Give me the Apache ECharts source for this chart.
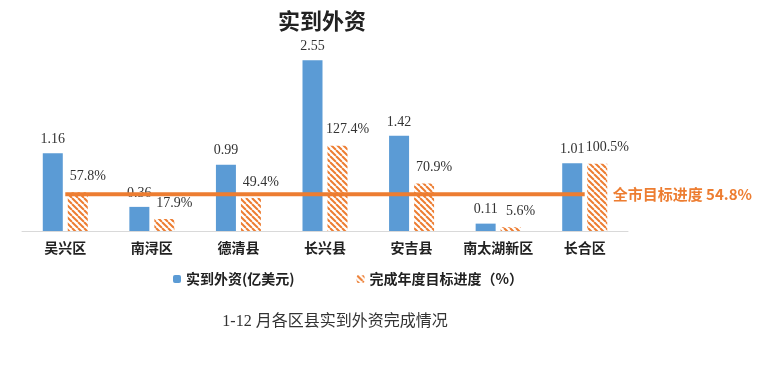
<!DOCTYPE html>
<html>
<head>
<meta charset="utf-8">
<script src="https://cdn.jsdelivr.net/npm/echarts@6/dist/echarts.min.js"></script>
<style>
html,body{margin:0;padding:0;background:#fff;}
#main{width:768px;height:378px;}
</style>
</head>
<body>
<div id="main"></div>
<script>
var districts = ['吴兴区', '南浔区', '德清县', '长兴县', '安吉县', '南太湖新区', '长合区'];
var fdiValues = [1.16, 0.36, 0.99, 2.55, 1.42, 0.11, 1.01];
var progressValues = [57.8, 17.9, 49.4, 127.4, 70.9, 5.6, 100.5];
var cityTarget = 54.8;

// 斜线填充
function makeStripe() {
	var s = 6;
	var c = document.createElement('canvas');
	c.width = s; c.height = s;
	var ctx = c.getContext('2d');
	ctx.fillStyle = '#fff';
	ctx.fillRect(0, 0, s, s);
	ctx.strokeStyle = '#ED7D31';
	ctx.lineWidth = 2;
	for (var x0 = -s; x0 <= s; x0 += s) {
		ctx.beginPath();
		ctx.moveTo(x0, 0);
		ctx.lineTo(x0 + s, s);
		ctx.stroke();
	}
	return c;
}

var chart = echarts.init(document.getElementById('main'));
var serif = '"Liberation Serif", "Noto Sans CJK SC", serif';
var sans = '"Noto Sans CJK SC", sans-serif';

var option = {
	backgroundColor: '#fff',
	animation: false,
	title: [{
		text: '实到外资',
		left: 317,
		textAlign: 'center',
		top: 5,
		textStyle: { fontFamily: sans, fontWeight: 'bold', fontSize: 22, color: '#222' }
	}, {
		text: '1-12 月各区县实到外资完成情况',
		left: 330,
		textAlign: 'center',
		top: 309,
		textStyle: { fontFamily: serif, fontWeight: 'normal', fontSize: 16, color: '#333' }
	}],
	legend: {
		data: ['实到外资(亿美元)', '完成年度目标进度（%）'],
		left: 168,
		top: 267,
		itemWidth: 8,
		itemHeight: 8,
		itemGap: 62,
		textStyle: { fontFamily: sans, fontWeight: 'bold', fontSize: 14, color: '#222' }
	},
	grid: {
		left: 22,
		right: 140,
		top: 30,
		bottom: 147
	},
	xAxis: {
		type: 'category',
		data: districts,
		axisTick: { show: false },
		axisLine: { lineStyle: { color: '#D9D9D9', width: 1 } },
		axisLabel: { interval: 0, margin: 10, fontFamily: sans, fontWeight: 'bold', fontSize: 14, color: '#222' }
	},
	yAxis: [
		{ type: 'value', min: 0, max: 3, show: false },
		{ type: 'value', min: 0, max: 300, show: false }
	],
	series: [
		{
			name: '实到外资(亿美元)',
			type: 'bar',
			barWidth: 20,
			barGap: '25%',
			yAxisIndex: 0,
			data: fdiValues,
			itemStyle: { color: '#5B9BD5' },
			label: {
				show: true,
				position: 'top',
				distance: 7,
				fontFamily: serif,
				fontSize: 14,
				color: '#333',
				formatter: function (p) { return p.value.toFixed(2); }
			}
		},
		{
			name: '完成年度目标进度（%）',
			type: 'bar',
			barWidth: 20,
			yAxisIndex: 1,
			data: progressValues,
			itemStyle: { color: { image: makeStripe(), repeat: 'repeat' } },
			label: {
				show: true,
				position: 'top',
				distance: 9,
				offset: [10, 0],
				fontFamily: serif,
				fontSize: 14,
				color: '#333',
				formatter: function (p) { return p.value.toFixed(1) + '%'; }
			}
		},
		{
			name: '全市目标进度',
			type: 'line',
			yAxisIndex: 1,
			data: districts.map(function () { return cityTarget; }),
			symbol: 'none',
			lineStyle: { color: '#ED7D31', width: 4 },
			itemStyle: { color: '#ED7D31' },
			endLabel: {
				show: true,
				distance: 28,
				fontFamily: sans,
				fontWeight: 'bold',
				fontSize: 15,
				color: '#ED7D31',
				formatter: '全市目标进度 ' + cityTarget + '%'
			},
			z: 5
		}
	]
};

chart.setOption(option);
</script>
</body>
</html>
